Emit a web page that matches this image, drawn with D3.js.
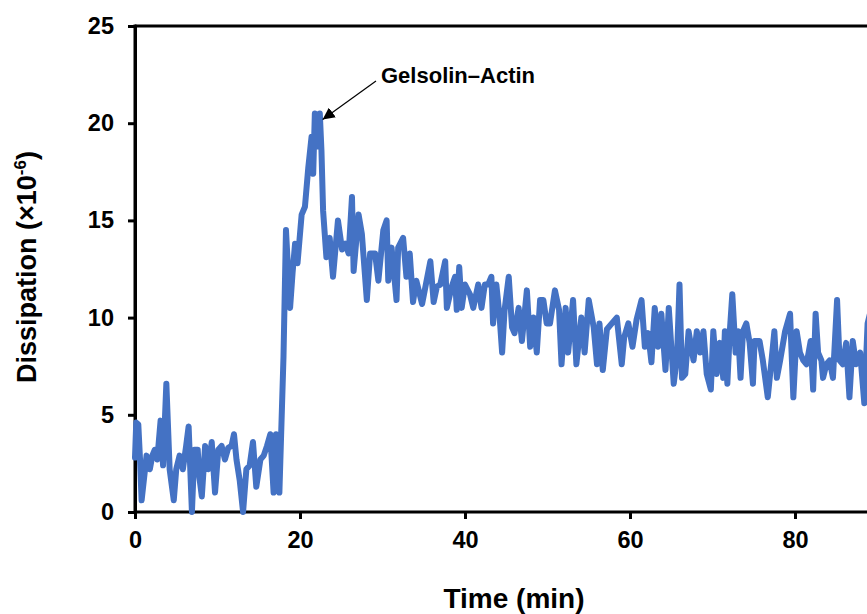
<!DOCTYPE html>
<html><head><meta charset="utf-8">
<script src="https://cdn.jsdelivr.net/npm/d3@7"></script>
<style>
html,body{margin:0;padding:0;background:#fff;overflow:hidden;}
text{font-family:"Liberation Sans",Arial,sans-serif;font-weight:bold;}
</style></head>
<body>
<svg id="c" width="867" height="614"></svg>
<script>
const times = [0,0.15,0.4,0.6,0.8,1.4,1.8,2.1,2.4,2.7,3.1,3.4,3.8,4.2,4.7,5.0,5.4,5.8,6.2,6.5,6.9,7.2,7.6,7.8,8.1,8.5,8.9,9.3,9.7,10.1,10.5,10.9,11.3,11.7,12.0,12.3,12.7,13.1,13.5,13.9,14.3,14.7,15.2,15.6,16.0,16.4,16.8,17.1,17.5,18.0,18.3,18.8,19.1,19.4,19.7,20.2,20.6,21.0,21.4,21.6,21.8,22.2,22.4,22.6,22.8,23.2,23.6,24.0,24.6,25.1,25.5,25.9,26.3,26.5,27.1,27.5,28.1,28.5,29.1,29.5,30.1,30.5,30.7,31.1,31.7,31.9,32.5,32.9,33.3,33.7,34.1,34.8,35.3,35.8,36.2,36.6,37.0,37.6,37.8,38.4,38.8,39.0,39.3,39.6,40.0,40.6,41.0,41.6,42.0,42.4,42.8,43.2,43.4,43.8,44.2,44.5,44.8,45.3,45.7,46.0,46.5,46.9,47.5,47.9,48.3,48.7,49.1,49.5,49.9,50.3,50.9,51.4,51.7,52.2,52.5,53.1,53.5,54.1,54.5,55.0,55.6,56.0,56.3,56.7,57.2,57.8,58.4,59.0,59.3,59.8,60.3,60.8,61.4,61.8,62.2,62.6,63.0,63.4,63.8,64.3,64.7,65.3,65.7,66.0,66.3,66.7,67.1,67.7,68.1,68.5,68.9,69.3,69.8,70.1,70.5,70.9,71.3,71.5,71.8,72.1,72.4,72.8,73.1,73.4,73.7,74.1,74.5,74.9,75.1,75.7,76.1,76.7,77.2,77.5,77.8,78.2,78.8,79.4,79.8,80.2,80.6,81.0,81.4,81.9,82.2,82.5,82.8,83.2,83.4,83.8,84.2,84.6,85.1,85.4,85.8,86.2,86.6,87.0,87.4,87.9,88.4,88.8,89.2,89.6,90.0];
const dissipation = [2.8,4.6,4.5,2.8,0.6,2.9,2.2,2.9,3.2,2.7,4.7,2.4,6.6,2.2,0.6,2.2,2.9,2.2,3.4,4.4,0.0,3.2,3.2,1.8,0.8,3.4,2.2,3.6,1.0,3.2,3.4,2.7,3.3,3.4,4.0,2.7,1.6,0.0,2.2,2.4,3.6,1.3,2.7,2.9,3.4,4.0,1.0,4.0,1.0,8.0,14.5,10.5,12.3,13.8,12.8,15.3,15.7,17.7,19.3,17.4,20.5,18.8,20.5,18.6,15.5,13.1,14.1,12.1,15.0,13.5,13.8,13.3,16.2,12.4,15.3,14.3,10.9,13.3,13.3,11.9,14.5,15.0,11.9,13.6,10.9,13.6,14.1,12.1,13.3,10.8,11.9,10.7,11.8,12.9,10.8,11.6,11.7,12.9,10.5,11.6,12.1,10.4,12.6,10.5,11.7,11.2,10.5,11.7,10.5,11.7,11.7,12.1,9.7,11.7,10.0,8.2,10.4,12.1,9.5,9.2,10.5,8.8,11.4,8.5,10.0,8.2,10.9,10.9,9.7,9.7,11.4,10.4,7.6,10.5,8.2,10.9,7.6,10.0,8.2,10.9,9.5,7.6,9.7,7.3,9.4,9.7,10.0,7.6,9.0,9.7,8.5,9.9,10.9,8.5,9.2,7.7,10.5,8.5,10.2,7.3,10.5,6.6,8.0,11.7,6.9,7.1,9.3,7.8,9.3,8.2,9.3,7.1,6.3,9.3,7.1,8.7,6.9,9.3,6.6,9.3,11.2,8.2,9.3,6.9,9.3,9.7,8.7,6.6,8.8,8.8,7.8,5.9,8.0,9.3,6.9,7.8,9.3,10.2,5.9,9.3,8.2,7.8,7.6,8.8,6.3,10.2,8.2,7.8,6.9,7.6,7.8,6.9,10.9,7.8,7.6,8.7,5.9,8.8,7.6,8.2,5.6,9.7,10.4,8.0,8.6];
const xTicks = [0,20,40,60,80];
const yTicks = [0,5,10,15,20,25];
const xTitle = "Time (min)";
const yTitle = "Dissipation (×10";
const ySup = "-6";
const annotation = "Gelsolin\u2013Actin";
const annotationPoint = [22.5, 20.5];

const svg = d3.select("#c");
const x = d3.scaleLinear().domain([0,100]).range([135,960]);
const y = d3.scaleLinear().domain([0,25]).range([512,26]);

// frame top
svg.append("line").attr("x1",135).attr("x2",960).attr("y1",y(25)).attr("y2",y(25))
  .attr("stroke","#000").attr("stroke-width",3);

const xAxis = svg.append("g").attr("transform",`translate(0,${y(0)})`)
  .call(d3.axisBottom(x).tickValues(xTicks).tickSize(7).tickPadding(12).tickSizeOuter(0));
const yAxis = svg.append("g").attr("transform",`translate(${x(0)},0)`)
  .call(d3.axisLeft(y).tickValues(yTicks).tickSize(7).tickPadding(14).tickSizeOuter(0));
xAxis.select(".domain").remove();
svg.append("line").attr("x1",x(0)).attr("x2",960).attr("y1",y(0)).attr("y2",y(0))
  .attr("stroke","#000").attr("stroke-width",3);
[xAxis,yAxis].forEach(g=>{
  g.select(".domain").attr("stroke","#000").attr("stroke-width",3);
  g.selectAll(".tick line").attr("stroke","#000").attr("stroke-width",3);
  g.selectAll(".tick text").attr("fill","#000").style("font-size","23.5px")
   .style("font-family","'Liberation Sans',Arial,sans-serif").style("font-weight","bold");
});
svg.append("line").attr("x1",x(0)).attr("x2",x(0)).attr("y1",y(25)-1.5).attr("y2",y(0)+1.5)
  .attr("stroke","#000").attr("stroke-width",3);

const data = times.map((t,i)=>({t, v:dissipation[i]}));
svg.append("path").datum(data)
  .attr("fill","none").attr("stroke","#4472C4").attr("stroke-width",6)
  .attr("stroke-linejoin","round").attr("stroke-linecap","round")
  .attr("d", d3.line().x(d=>x(d.t)).y(d=>y(d.v)));

svg.append("text").attr("x",514).attr("y",608).attr("text-anchor","middle")
  .style("font-size","28px").text(xTitle);

const yt = svg.append("text").attr("transform","translate(36,267) rotate(-90)")
  .attr("text-anchor","middle").style("font-size","27px");
yt.append("tspan").text(yTitle);
yt.append("tspan").attr("dy",-10).style("font-size","17px").text(ySup);
yt.append("tspan").attr("dy",10).text(")");

// annotation
const defs = svg.append("defs");
defs.append("marker").attr("id","ah").attr("viewBox","0 0 10 10").attr("refX",10).attr("refY",5)
  .attr("markerWidth",12).attr("markerHeight",12).attr("markerUnits","userSpaceOnUse").attr("orient","auto")
  .append("path").attr("d","M0,0L10,5L0,10z").attr("fill","#000");
const ax = x(annotationPoint[0]), ay = y(annotationPoint[1]);
svg.append("line").attr("x1",376).attr("y1",81).attr("x2",ax+2).attr("y2",ay+6)
  .attr("stroke","#000").attr("stroke-width",1.2).attr("marker-end","url(#ah)");
svg.append("text").attr("x",381).attr("y",83).style("font-size","22px").text(annotation);
</script>
</body></html>
